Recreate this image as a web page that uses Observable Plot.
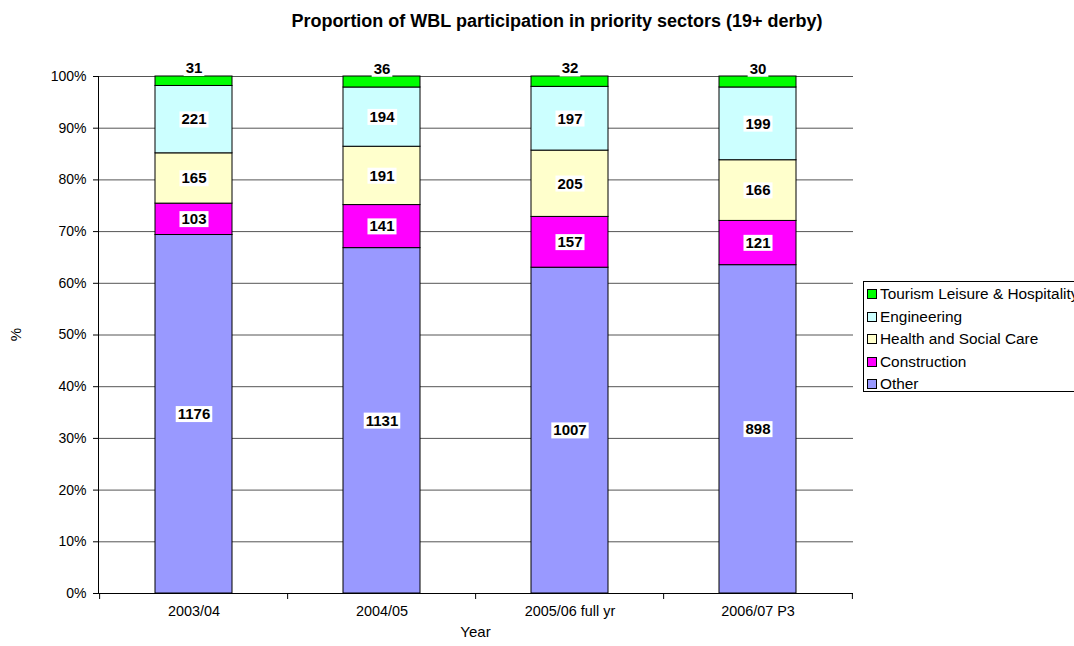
<!DOCTYPE html>
<html><head><meta charset="utf-8">
<script src="https://cdn.jsdelivr.net/npm/d3@7"></script>
<script src="https://cdn.jsdelivr.net/npm/@observablehq/plot@0.6"></script>
<style>
body{margin:0;background:#fff;font-family:"Liberation Sans",Arial,sans-serif;overflow:hidden}
#wrap{position:relative;width:1074px;height:646px;overflow:hidden;background:#fff}
.abs{position:absolute;font-size:15px;color:#000;white-space:nowrap}
#title{top:11px;left:0;width:1114px;text-align:center;font-weight:bold;font-size:18px}
#xlabel{top:623px;left:0;width:951px;text-align:center}
#ylabel{left:9px;top:326px;transform:rotate(-90deg);transform-origin:center}
#legend{left:863px;top:281px;width:240px;height:111px;border:1px solid #000;box-sizing:border-box;background:#fff;padding-top:1px}
.item{height:22.5px;line-height:22.5px;display:flex;align-items:center;font-size:15.4px}
.sw{width:8px;height:8px;border:1px solid #000;margin-left:3px;margin-right:3px;flex:none}
</style></head>
<body>
<div id="wrap">
  <div id="chart"></div>
  <div id="title" class="abs">Proportion of WBL participation in priority sectors (19+ derby)</div>
  <div id="xlabel" class="abs">Year</div>
  <div id="ylabel" class="abs">%</div>
  <div id="legend" class="abs"></div>
</div>
<script>
const years = ["2003/04", "2004/05", "2005/06 full yr", "2006/07 P3"];
const sectors = ["Other", "Construction", "Health and Social Care", "Engineering", "Tourism Leisure & Hospitality"];
const other = [1176, 1131, 1007, 898];
const construction = [103, 141, 157, 121];
const health = [165, 191, 205, 166];
const engineering = [221, 194, 197, 199];
const tourism = [31, 36, 32, 30];
const colors = ["#9999FF", "#FF00FF", "#FFFFCC", "#CCFFFF", "#00FF00"];
const yTicks = [0, 0.1, 0.2, 0.3, 0.4, 0.5, 0.6, 0.7, 0.8, 0.9, 1];
const legendOrder = ["Tourism Leisure & Hospitality", "Engineering", "Health and Social Care", "Construction", "Other"];

const series = [other, construction, health, engineering, tourism];
const table = years.flatMap((year, i) => sectors.map((sector, j) => ({year, sector, value: series[j][i]})));
const topSector = sectors[sectors.length - 1];
const halfStep = 755 / years.length / 2;

const chart = Plot.plot({
  width: 1074, height: 646,
  marginLeft: 98, marginRight: 221, marginTop: 76, marginBottom: 53,
  style: {fontFamily: "Liberation Sans, Arial, sans-serif", fontSize: "14px", color: "#000", background: "transparent"},
  x: {domain: years, paddingInner: 0.59, paddingOuter: 0.295, label: null},
  y: {domain: [0, 1], label: null},
  color: {domain: sectors, range: colors},
  marks: [
    Plot.gridY(yTicks, {stroke: "#555", strokeOpacity: 1}),
    Plot.barY(table, {x: "year", y: "value", fill: "sector", stroke: "#000", strokeWidth: 1, offset: "normalize"}),
    Plot.axisY(yTicks, {tickFormat: d3.format(".0%"), tickSize: 5, tickPadding: 7, label: null, stroke: "#000", fontSize: 14}),
    Plot.axisX({tickSize: 0, tickPadding: 12, label: null, fontSize: 14.4}),
    Plot.ruleY([0], {stroke: "#000"}),
    Plot.frame({anchor: "left", stroke: "#000"}),
    Plot.ruleX(years, {x: d => d, y1: 0, y2: 0, dx: -halfStep, insetBottom: -6, stroke: "#000"}),
    Plot.ruleX([years[years.length - 1]], {x: d => d, y1: 0, y2: 0, dx: halfStep, insetBottom: -6, stroke: "#000"}),
    Plot.text(table, Plot.stackY({x: "year", y: "value", z: "sector", offset: "normalize",
      text: d => d.sector === topSector ? null : String(d.value), fontWeight: "bold", fontSize: 15, fill: "#000"})),
    Plot.text(table, Plot.stackY({x: "year", y: "value", z: "sector", offset: "normalize",
      text: d => d.sector === topSector ? String(d.value) : null, fontWeight: "bold", fontSize: 15, fill: "#000", dy: -13}))
  ]
});
document.getElementById("chart").appendChild(chart);

// white label boxes behind data labels
chart.querySelectorAll('g[aria-label="text"] text').forEach(t => {
  const b = t.getBBox();
  const r = document.createElementNS("http://www.w3.org/2000/svg", "rect");
  r.setAttribute("x", b.x - 2);
  r.setAttribute("y", b.y + 1);
  r.setAttribute("width", b.width + 4);
  r.setAttribute("height", b.height - 1);
  r.setAttribute("fill", "#fff");
  r.setAttribute("stroke", "none");
  if (t.getAttribute("transform")) r.setAttribute("transform", t.getAttribute("transform"));
  t.parentNode.insertBefore(r, t);
});

const legend = document.getElementById("legend");
legendOrder.forEach(s => {
  const it = document.createElement("div");
  it.className = "item";
  const sw = document.createElement("span");
  sw.className = "sw";
  sw.style.background = colors[sectors.indexOf(s)];
  const tx = document.createElement("span");
  tx.textContent = s;
  it.appendChild(sw); it.appendChild(tx);
  legend.appendChild(it);
});
</script>
</body></html>
